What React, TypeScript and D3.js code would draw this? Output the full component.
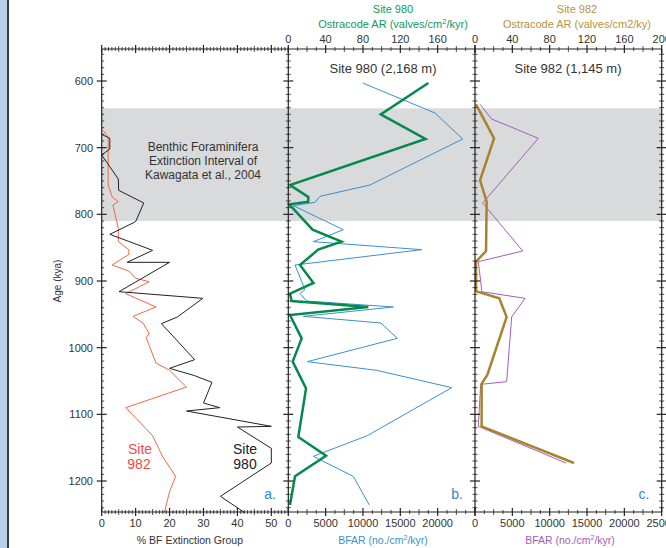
import * as d3 from "d3";

// Panel a: % BF extinction group
const ageBF980 = [680, 686, 702, 711, 747, 764, 783, 811, 830, 854, 872, 872, 916, 926, 954, 964, 1018, 1031, 1042, 1052, 1083, 1090, 1095, 1118, 1119, 1151, 1173, 1223, 1247];
const pctBF980 = [0, 2.4, 2.4, 0, 4.9, 5, 12.4, 10, 2.4, 15, 7.5, 20, 5.1, 29.8, 22.3, 17.6, 27.4, 20, 27.4, 32.5, 30, 34.8, 25, 50, 40, 50, 50, 35, 42];
const ageBF982 = [674, 684, 756, 774, 781, 786, 821, 841, 853, 860, 876, 885, 896, 901, 919, 939, 953, 963, 979, 985, 1023, 1034, 1059, 1090, 1132, 1164, 1193, 1216, 1247];
const pctBF982 = [0.4, 1.9, 1.9, 3.1, 4.9, 3.3, 4.9, 4.9, 8, 8, 3.1, 8, 10, 14, 7.1, 16, 9.2, 12.2, 14, 13.1, 16, 20, 25, 7.1, 15, 18, 21.8, 20, 18.5];

// Panel b: Site 980
const ageOst980 = [603, 650, 687, 756, 774, 781, 785, 823, 841, 853, 876, 903, 919, 930, 939, 951, 986, 1021, 1061, 1134, 1162, 1193, 1236];
const ost980 = [150, 99, 147, 1.8, 21.4, 21.4, 1, 26, 57, 32, 12.5, 27, 1.8, 3.6, 85.7, 1.8, 14.3, 4.7, 19, 10.7, 40.4, 7.2, 1.8];
const ageBfar980 = [603, 648, 687, 756, 773, 782, 787, 823, 841, 853, 876, 913, 919, 930, 939, 953, 963, 986, 1021, 1034, 1060, 1132, 1163, 1193, 1236];
const bfar980 = [9960, 19640, 23350, 10940, 4245, 3575, 670, 7365, 3350, 17860, 900, 2240, 1565, 2460, 14060, 2010, 12410, 14600, 2545, 11840, 21880, 10580, 3350, 8700, 10850];

// Panel c: Site 982
const ageOst982 = [635, 686, 749, 781, 855, 871, 914, 916, 926, 954, 1041, 1054, 1118, 1173];
const ost982 = [1.1, 20.4, 5.4, 12.5, 11.8, 1.1, 1.1, 2.5, 26, 33.9, 13.2, 7.1, 7.1, 106];
const ageBfar982 = [635, 657, 686, 783, 855, 871, 914, 916, 926, 954, 1051, 1055, 1118, 1173];
const bfar982 = [670, 2230, 8480, 1030, 6390, 445, 900, 900, 6700, 4910, 4240, 760, 445, 12180];

const ageTicks = [600, 700, 800, 900, 1000, 1100, 1200];
const pctTicks = [0, 10, 20, 30, 40, 50];
const bfarTicksB = [0, 5000, 10000, 15000, 20000];
const bfarTicksC = [0, 5000, 10000, 15000, 20000, 25000];
const ostTicksB = [0, 40, 80, 120, 160];
const ostTicksC = [0, 40, 80, 120, 160, 200];

const FONT = "'Liberation Sans', Arial, sans-serif";
const TXT = "#333";

const y = d3.scaleLinear().domain([552, 1246.5]).range([49, 512]);
const xA = d3.scaleLinear().domain([0, 55]).range([101.7, 288.3]);
const xBbot = d3.scaleLinear().domain([0, 25000]).range([288.3, 475]);
const xBtop = d3.scaleLinear().domain([0, 200]).range([288.3, 475]);
const xCbot = d3.scaleLinear().domain([0, 25000]).range([475, 661.7]);
const xCtop = d3.scaleLinear().domain([0, 200]).range([475, 661.7]);

const TOP = y.range()[0];
const BOT = y.range()[1];

function path(xs: d3.ScaleLinear<number, number>, ages: number[], vals: number[]) {
  const line = d3.line<number>().x((_, i) => xs(vals[i])).y((a) => y(a));
  return line(ages) || "";
}

// horizontal axis ticks, crossing the line
function hTicks(xs: d3.ScaleLinear<number, number>, step: number, mid: number, major: number, yy: number, key: string) {
  const [d0, d1] = xs.domain();
  return d3.range(d0, d1 + step / 2, step).map((v, i) => {
    const isMajor = Math.abs(v % major) < 1e-6;
    const isMid = Math.abs(v % mid) < 1e-6;
    const len = isMajor ? 4 : isMid ? 3 : 2;
    return (
      <line key={key + i} x1={xs(v)} x2={xs(v)} y1={yy - len} y2={yy + len} stroke="#222" strokeWidth={isMajor ? 1.2 : 0.8} />
    );
  });
}

function vTicks(xx: number, key: string, inner: boolean) {
  return d3.range(560, 1250, 10).map((a, i) => {
    const isMajor = a % 100 === 0;
    const len = isMajor ? 5 : 2.5;
    return (
      <line key={key + i} x1={inner && !isMajor ? xx : xx - len} x2={xx + len} y1={y(a)} y2={y(a)} stroke="#222" strokeWidth={isMajor ? 1.2 : 0.8} />
    );
  });
}

export default function App() {
  const panels = [xA.range(), xBbot.range(), xCbot.range()];
  return (
    <svg width={666} height={548} style={{ position: "absolute", left: 0, top: 0, fontFamily: FONT }}>
      <rect x={0} y={0} width={666} height={548} fill="#fff" />
      <rect x={0} y={0} width={7} height={548} fill="#b7d3ec" />
      <line x1={8} x2={8} y1={0} y2={548} stroke="#3a3a3a" strokeWidth={2} />

      {/* extinction interval band */}
      <rect x={xA(0)} y={y(641)} width={xCbot.range()[1] - xA(0)} height={y(810) - y(641)} fill="#d9dadb" />
      <text x={203} y={151} textAnchor="middle" fontSize={12} fill={TXT}>Benthic Foraminifera</text>
      <text x={203} y={165} textAnchor="middle" fontSize={12} fill={TXT}>Extinction Interval of</text>
      <text x={203} y={179} textAnchor="middle" fontSize={12} fill={TXT}>Kawagata et al., 2004</text>

      {/* series */}
      <path d={path(xA, ageBF982, pctBF982)} fill="none" stroke="#f26846" strokeWidth={1} />
      <path d={path(xA, ageBF980, pctBF980)} fill="none" stroke="#222" strokeWidth={1} />
      <path d={path(xBbot, ageBfar980, bfar980)} fill="none" stroke="#3b8fd2" strokeWidth={1} />
      <path d={path(xBtop, ageOst980, ost980)} fill="none" stroke="#038a4c" strokeWidth={2.5} />
      <path d={path(xCbot, ageBfar982, bfar982)} fill="none" stroke="#a65cb8" strokeWidth={1} />
      <path d={path(xCtop, ageOst982, ost982)} fill="none" stroke="#a8832b" strokeWidth={2.5} />

      {/* frames */}
      {panels.map(([a, b], i) => (
        <g key={"f" + i}>
          <line x1={a} x2={b} y1={TOP} y2={TOP} stroke="#222" strokeWidth={1.2} />
          <line x1={a} x2={b} y1={BOT} y2={BOT} stroke="#222" strokeWidth={1.2} />
        </g>
      ))}
      {[xA(0), xBbot(0), xCbot(0), xCbot(25000)].map((xx, i) => (
        <g key={"v" + i}>
          <line x1={xx} x2={xx} y1={TOP} y2={BOT} stroke="#222" strokeWidth={1.2} />
          {vTicks(xx, "vt" + i, i === 0)}
        </g>
      ))}

      {/* horizontal ticks */}
      {hTicks(xA, 1, 5, 10, TOP, "at")}
      {hTicks(xA, 1, 5, 10, BOT, "ab")}
      {hTicks(xBtop, 10, 20, 40, TOP, "bt")}
      {hTicks(xBbot, 1250, 2500, 5000, BOT, "bb")}
      {hTicks(xCtop, 10, 20, 40, TOP, "ct")}
      {hTicks(xCbot, 1250, 2500, 5000, BOT, "cb")}

      {/* age axis labels */}
      {ageTicks.map((a) => (
        <text key={"al" + a} x={93} y={y(a) + 4} textAnchor="end" fontSize={11} fill={TXT}>{a}</text>
      ))}
      <text transform={`translate(61,${y(900)}) rotate(-90)`} textAnchor="middle" fontSize={10} fill={TXT}>Age (kya)</text>

      {/* bottom tick labels */}
      {pctTicks.map((v) => (
        <text key={"pl" + v} x={xA(v)} y={527} textAnchor="middle" fontSize={11} fill={TXT}>{v}</text>
      ))}
      {bfarTicksB.map((v) => (
        <text key={"bl" + v} x={xBbot(v)} y={527} textAnchor="middle" fontSize={11} fill={TXT}>{v}</text>
      ))}
      {bfarTicksC.map((v) => (
        <text key={"cl" + v} x={xCbot(v)} y={527} textAnchor="middle" fontSize={11} fill={TXT}>{v}</text>
      ))}
      <text x={xA(26)} y={544} textAnchor="middle" fontSize={10.5} fill={TXT}>% BF Extinction Group</text>
      <text x={383} y={544} textAnchor="middle" fontSize={10.5} fill="#3b8fd2">
        BFAR (no./cm<tspan dy={-4} fontSize={7}>2</tspan><tspan dy={4}>/kyr)</tspan>
      </text>
      <text x={570} y={544} textAnchor="middle" fontSize={10.5} fill="#a65cb8">
        BFAR (no./cm<tspan dy={-4} fontSize={7}>2</tspan><tspan dy={4}>/kyr)</tspan>
      </text>

      {/* top tick labels */}
      {ostTicksB.map((v) => (
        <text key={"ob" + v} x={xBtop(v)} y={43} textAnchor="middle" fontSize={11} fill={TXT}>{v}</text>
      ))}
      {ostTicksC.map((v) => (
        <text key={"oc" + v} x={xCtop(v)} y={43} textAnchor="middle" fontSize={11} fill={TXT}>{v}</text>
      ))}
      <text x={393} y={13} textAnchor="middle" fontSize={11} fill="#13975a">Site 980</text>
      <text x={393} y={28} textAnchor="middle" fontSize={11} fill="#13975a">
        Ostracode AR (valves/cm<tspan dy={-4} fontSize={7.5}>2</tspan><tspan dy={4}>/kyr)</tspan>
      </text>
      <text x={577} y={13} textAnchor="middle" fontSize={11} fill="#b8923e">Site 982</text>
      <text x={577} y={28} textAnchor="middle" fontSize={11} fill="#b8923e">Ostracode AR (valves/cm2/ky)</text>

      {/* panel titles */}
      <text x={383} y={73} textAnchor="middle" fontSize={13} fill={TXT}>Site 980 (2,168 m)</text>
      <text x={568} y={73} textAnchor="middle" fontSize={13} fill={TXT}>Site 982 (1,145 m)</text>

      {/* in-panel labels */}
      <text x={140} y={454} textAnchor="middle" fontSize={14} fill="#ef4a4a">Site</text>
      <text x={139} y={469} textAnchor="middle" fontSize={14} fill="#ef4a4a">982</text>
      <text x={245} y={454} textAnchor="middle" fontSize={14} fill="#222">Site</text>
      <text x={245} y={469} textAnchor="middle" fontSize={14} fill="#222">980</text>
      <text x={270} y={499} textAnchor="middle" fontSize={14} fill="#2f86d0">a.</text>
      <text x={457} y={499} textAnchor="middle" fontSize={14} fill="#2f86d0">b.</text>
      <text x={644} y={499} textAnchor="middle" fontSize={14} fill="#2f86d0">c.</text>
    </svg>
  );
}
